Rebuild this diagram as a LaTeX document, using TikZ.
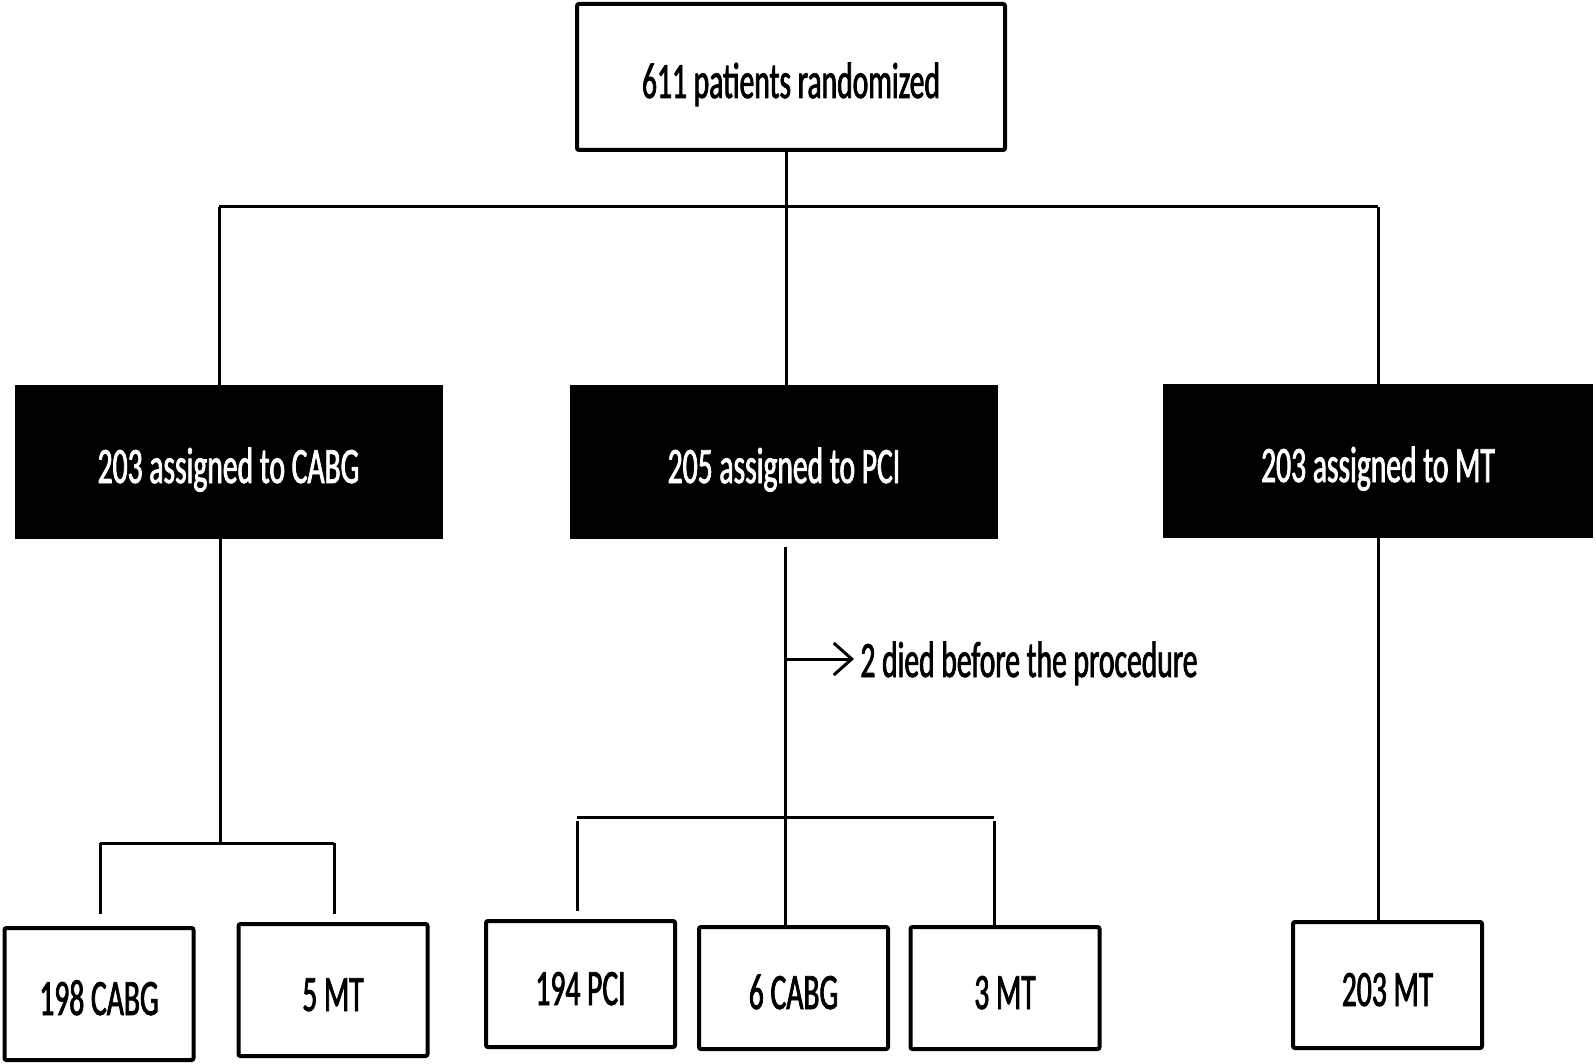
\documentclass[tikz,border=0pt]{standalone}
\usepackage{fontspec}
\setmainfont{Carlito}[FakeStretch=0.58, FakeBold=1.5]
\usepackage{tikz}
\usetikzlibrary{arrows.meta, positioning, calc}
\definecolor{inkBlack}{HTML}{000000}
\definecolor{paperWhite}{HTML}{FFFFFF}
\tikzset{
    % Common
    flowPic/.style={x=0.5pt, y=-0.5pt},
    labelFont/.style={font=\fontsize{25.5}{30}\selectfont, text height=21pt, text depth=0pt},
    linkLine/.style={draw=inkBlack, line width=1.5pt},
    noteArrow/.style={->, >={Straight Barb[length=9pt, width=16pt]}, line width=1.5pt, draw=inkBlack},
    % Box Styles
    startBox/.style={rectangle, draw=inkBlack, line width=2pt, fill=paperWhite, rounded corners=1pt, labelFont, minimum width=214pt, minimum height=73pt, inner sep=0pt},
    armBox/.style={rectangle, fill=inkBlack, text=paperWhite, labelFont, minimum width=214pt, minimum height=77pt, inner sep=0pt},
    outcomeBox/.style={rectangle, draw=inkBlack, line width=2pt, fill=paperWhite, rounded corners=1pt, labelFont, minimum width=94.5pt, minimum height=63pt, inner sep=0pt},
    noteText/.style={labelFont, text height=18pt, anchor=west, inner sep=3pt}
}

\begin{document}
\begin{tikzpicture}[flowPic]
        \useasboundingbox (0,0) rectangle (1595,1064);

        % Randomization
        \node[startBox] (startNode) at (791, 77) {611 patients randomized};
        \coordinate (splitTop) at (786, 207);
        \coordinate (splitL) at (219, 207);
        \coordinate (splitR) at (1378, 207);

        % Assigned arms
        \node[armBox] (armCabg) at (228.5, 462) {203 assigned to CABG};
        \node[armBox] (armPci) at (784, 462) {205 assigned to PCI};
        \node[armBox, minimum width=215pt] (armMt) at (1378, 461) {203 assigned to MT};

        \draw[linkLine] (startNode.south -| splitTop) -- (splitTop);
        \draw[linkLine] (splitL) -- (splitR);
        \draw[linkLine] (splitL) -- (splitL |- armCabg.north);
        \draw[linkLine] (splitTop) -- (splitTop |- armPci.north);
        \draw[linkLine] (splitR) -- (splitR |- armMt.north);

        % Received treatment
        \node[outcomeBox, minimum height=66pt] (outCabg) at (99, 994) {198 CABG};
        \node[outcomeBox, minimum height=66pt] (outCabgMt) at (333, 990) {5 MT};
        \node[outcomeBox] (outPci) at (580.5, 984) {194 PCI};
        \node[outcomeBox, minimum height=61pt] (outPciCabg) at (793.5, 988) {6 CABG};
        \node[outcomeBox, minimum height=61pt] (outPciMt) at (1005, 988) {3 MT};
        \node[outcomeBox] (outMt) at (1387.5, 985) {203 MT};

        % CABG branch
        \coordinate (cabgSplit) at (220, 843);
        \coordinate (cabgBarL) at (100, 843);
        \coordinate (cabgBarR) at (334, 843);
        \draw[linkLine] (armCabg.south -| cabgSplit) -- (cabgSplit);
        \draw[linkLine] (cabgBarL) -- (cabgBarR);
        \draw[linkLine] (cabgBarL) -- ([yshift=6pt]cabgBarL |- outCabg.north);
        \draw[linkLine] (cabgBarR) -- ([yshift=4pt]cabgBarR |- outCabgMt.north);

        % PCI branch
        \coordinate (pciSplit) at (785, 817);
        \coordinate (pciBarL) at (577, 817);
        \coordinate (pciBarR) at (994, 817);
        \coordinate (noteFoot) at (785, 659);
        \node[noteText] (deathNote) at (854, 659) {2 died before the procedure};
        \draw[linkLine] ([yshift=-4pt]armPci.south -| pciSplit) -- (pciSplit);
        \draw[noteArrow] (noteFoot) -- (deathNote.west);
        \draw[linkLine] (pciBarL) -- (pciBarR);
        \draw[linkLine] ([yshift=-2pt]pciBarL) -- ([yshift=4pt]pciBarL |- outPci.north);
        \draw[linkLine] (pciSplit) -- (pciSplit |- outPciCabg.north);
        \draw[linkLine] ([yshift=-2pt]pciBarR) -- (pciBarR |- outPciMt.north);

        % MT branch
        \draw[linkLine] (armMt.south -| splitR) -- (splitR |- outMt.north);
    \end{tikzpicture}
\end{document}
